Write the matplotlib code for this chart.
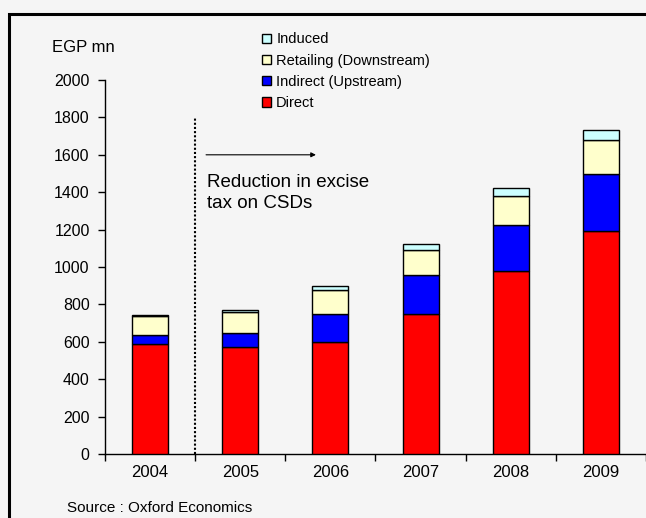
"""
Economic impact of the soft drinks industry, Egypt (EGP mn)
"""

import matplotlib.pyplot as plt
from matplotlib.patches import Rectangle

plt.rcParams['font.family'] = ['Liberation Sans', 'DejaVu Sans']

# Data
years = ['2004', '2005', '2006', '2007', '2008', '2009']
direct = [587, 574, 599, 747, 977, 1191]
indirect = [51, 75, 148, 210, 249, 306]
retailing = [100, 109, 130, 134, 154, 182]
induced = [5, 14, 23, 30, 44, 54]

series = [
    ('Direct', direct, '#ff0000'),
    ('Indirect (Upstream)', indirect, '#0000ff'),
    ('Retailing (Downstream)', retailing, '#ffffcc'),
    ('Induced', induced, '#ccffff'),
]

bg = '#f5f5f5'
fig = plt.figure(figsize=(6.46, 5.18), dpi=100, facecolor=bg)
ax = fig.add_axes([105 / 646, 64 / 518, 541 / 646, 374 / 518], facecolor=bg)

x = list(range(len(years)))
bottom = [0] * len(years)
for name, vals, col in series:
    ax.bar(x, vals, 0.4, bottom=bottom, color=col, edgecolor='black',
           linewidth=1, label=name, zorder=3)
    bottom = [b + v for b, v in zip(bottom, vals)]

ax.set_xlim(-0.5, 5.5)
ax.set_ylim(0, 2000)
ax.set_yticks(range(0, 2001, 200))
ax.tick_params(axis='y', labelsize=11.5, length=5, width=1, pad=6)

# category boundary ticks, labels in the middle
ax.set_xticks([i + 0.5 for i in range(-1, 6)])
ax.set_xticklabels([])
ax.set_xticks(x, minor=True)
ax.set_xticklabels(years, minor=True, fontsize=12)
ax.tick_params(axis='x', which='major', length=5, width=1)
ax.tick_params(axis='x', which='minor', length=0, pad=8)

for s in ['top', 'right']:
    ax.spines[s].set_visible(False)
ax.spines['left'].set_linewidth(1)
ax.spines['bottom'].set_linewidth(1)

# excise tax marker
ax.plot([0.5, 0.5], [0, 1800], ls=(0, (1, 1)), color='black', lw=1.5, zorder=4)
ax.annotate('', xy=(1.87, 1600), xytext=(0.59, 1600),
            arrowprops=dict(arrowstyle='-|>', color='black', lw=0.8, mutation_scale=7))
ax.text(0.63, 1495, 'Reduction in excise\ntax on CSDs', fontsize=13.5,
        va='top', ha='left', linespacing=1.28)

fig.text(52 / 646, 1 - 47 / 518, 'EGP mn', fontsize=12, va='center', ha='left')
fig.text(67 / 646, 1 - 501 / 518, 'Source : Oxford Economics', fontsize=11,
         va='top', ha='left')

fig.legend(loc='upper left', bbox_to_anchor=(255 / 646, 1 - 25 / 518),
           reverse=True, frameon=False, fontsize=10.5, handlelength=0.6,
           handleheight=0.6, handletextpad=0.35, labelspacing=0.5,
           borderpad=0)

# outer frame
fig.patches.append(Rectangle((9 / 646, -0.1), 1.1, 1 - 14 / 518 + 0.1,
                             transform=fig.transFigure, fill=False,
                             edgecolor='black', linewidth=2.2))

plt.savefig('out.png', dpi=100, facecolor=bg)
